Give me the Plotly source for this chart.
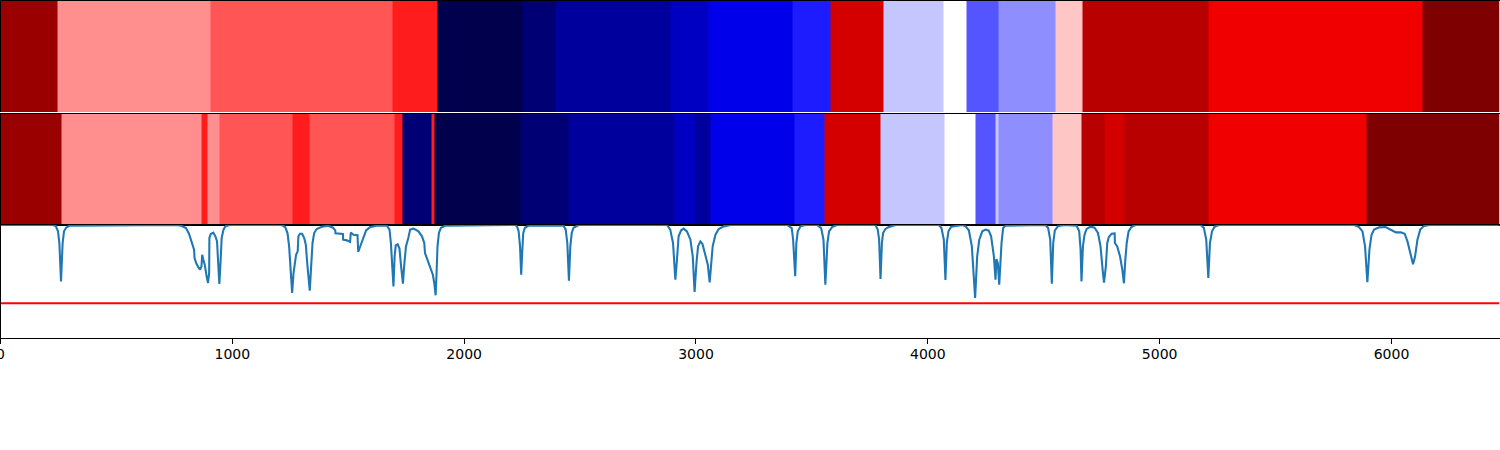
import plotly.graph_objects as go

X_MAX = 6466
THRESHOLD = 0.307

row1_edges = [0, 248, 904, 1689, 1883, 2250, 2392, 2888, 3056, 3418, 3582, 3807, 4066, 4169, 4303, 4549, 4669, 5209, 6132, 6466]
row1_rank = [17, 11, 12, 13, 0, 1, 2, 3, 4, 5, 15, 8, 9, 6, 7, 10, 16, 14, 18]

row2_edges = [0, 261, 869, 895, 943, 1258, 1335, 1698, 1736, 1861, 1874, 2245, 2452, 2909, 2996, 3061, 3427, 3556, 3794, 4074, 4204, 4294, 4307, 4536, 4661, 4761, 4847, 5209, 5894, 6466]
row2_rank = [17, 11, 13, 11, 12, 13, 12, 13, 1, 13, 0, 1, 2, 3, 2, 4, 5, 15, 8, 9, 6, 8, 7, 10, 16, 15, 16, 14, 18]

spectrum_x = [
    0, 228, 239, 248, 254, 258, 261, 265, 268, 274, 283, 297, 760, 782, 800, 813, 825, 835, 837, 844, 854, 861,
    867, 870, 875, 881, 888, 895, 900, 901, 907, 918, 927, 934, 939, 944, 949, 954, 962, 970, 990, 1213, 1228,
    1238, 1245, 1251, 1258, 1264, 1270, 1275, 1282, 1285, 1292, 1301, 1310, 1317, 1323, 1328, 1334, 1340, 1346,
    1353, 1364, 1386, 1415, 1434, 1444, 1445, 1465, 1477, 1478, 1494, 1508, 1511, 1523, 1540, 1543, 1552, 1566,
    1577, 1595, 1623, 1667, 1678, 1684, 1690, 1695, 1700, 1705, 1713, 1721, 1728, 1736, 1741, 1749, 1759, 1767,
    1782, 1803, 1818, 1828, 1831, 1842, 1854, 1865, 1871, 1877, 1881, 1885, 1891, 1900, 1918,
    2220, 2228, 2235, 2241, 2246, 2251, 2255, 2262, 2278, 2429, 2438, 2445, 2452, 2458, 2464, 2472, 2494,
    2875, 2889, 2901, 2911, 2918, 2925, 2936, 2947, 2961, 2976, 2986, 2994, 3002, 3009, 3019, 3028, 3040, 3051,
    3059, 3065, 3072, 3084, 3098, 3120, 3148, 3393, 3413, 3419, 3428, 3433, 3439, 3451, 3472, 3522, 3540, 3550,
    3558, 3567, 3574, 3587, 3609, 3774, 3784, 3790, 3796, 3802, 3807, 3817, 3832, 3861, 4048, 4059, 4069, 4076,
    4082, 4089, 4101, 4148, 4163, 4177, 4190, 4204, 4213, 4222, 4235, 4249, 4263, 4273, 4285, 4292, 4296, 4302,
    4308, 4318, 4325, 4335, 4508, 4519, 4528, 4535, 4541, 4548, 4561, 4587, 4642, 4653, 4659, 4663, 4669, 4676,
    4685, 4702, 4719, 4734, 4745, 4754, 4760, 4768, 4774, 4781, 4793, 4806, 4807, 4817, 4829, 4839, 4846, 4852,
    4858, 4866, 4878, 4896, 5177, 5191, 5201, 5210, 5217, 5226, 5237, 5256, 5839, 5860, 5875, 5886, 5896, 5905,
    5914, 5925, 5947, 5975, 5997, 6019, 6040, 6057, 6069, 6080, 6093, 6102, 6112, 6124, 6138, 6162, 6466,
]
spectrum_y = [
    1.0, 1.0, .988, .944, .841, .664, .501, .693, .841, .944, .976, .993, 1.0, .991, .973, .923, .855, .782, .708, .664, .625, .605,
    .634, .737, .693, .649, .560, .487, .575, .885, .920, .932, .900, .855, .664, .478, .664, .885, .959, .988, 1.0, 1.0, .982,
    .929, .811, .605, .398, .575, .693, .737, .767, .900, .923, .923, .885, .826, .664, .516, .419, .634, .841,
    .929, .965, .985, .993, .976, .953, .926, .920, .920, .870, .864, .850, .932, .914, .909, .761, .811, .900,
    .953, .982, .993, .993, .959, .841, .605, .457, .723, .820, .829, .791, .634, .481, .634, .811, .885, .959,
    .968, .944, .900, .841, .752, .693, .619, .560, .487, .378, .575, .811, .929, .976, .993,
    1.0, .988, .944, .811, .560, .782, .929, .976, .993, .993, .959, .841, .507, .811, .929, .976, 1.0,
    1.0, .959, .841, .516, .693, .900, .953, .968, .944, .870, .723, .407, .664, .811, .855, .832, .737, .649,
    .493, .634, .811, .914, .965, .988, 1.0, 1.0, .973, .870, .546, .841, .944, .988, 1.0, 1.0, .973, .870,
    .472, .841, .944, .982, 1.0, 1.0, .959, .870, .522, .841, .929, .965, .982, 1.0, 1.0, .973, .870, .513,
    .841, .944, .985, 1.0, .988, .953, .811, .354, .723, .870, .944, .959, .950, .900, .723, .516, .699, .664,
    .472, .841, .973, .993, 1.0, .973, .870, .481, .841, .953, .988, 1.0, .993, .944, .782, .501, .811, .914,
    .965, .985, .976, .929, .811, .605, .490, .634, .841, .894, .923, .926, .841, .811, .723, .605, .484, .693,
    .841, .944, .982, 1.0, 1.0, .973, .870, .531, .841, .944, .985, 1.0, 1.0, .982, .944, .811, .493, .782,
    .914, .959, .979, .982, .959, .935, .935, .923, .855, .752, .652, .723, .870, .959, .988, 1.0, 1.0,
]
tick_values = [0, 1000, 2000, 3000, 4000, 5000, 6000]
tick_labels = ["0", "1000", "2000", "3000", "4000", "5000", "6000"]

SEISMIC = [
    [0.0, "rgb(0,0,76)"],
    [0.25, "rgb(0,0,255)"],
    [0.5, "rgb(255,255,255)"],
    [0.75, "rgb(255,0,0)"],
    [1.0, "rgb(127,0,0)"],
]

W, H = 1500, 450


def ydom(top, bottom):
    return [1 - bottom / H, 1 - top / H]


fig = go.Figure()
fig.add_trace(go.Heatmap(x=row1_edges, y=[0, 1], z=[row1_rank], zmin=0, zmax=18, colorscale=SEISMIC,
                         showscale=False, xaxis="x", yaxis="y", hoverinfo="skip"))
fig.add_trace(go.Heatmap(x=row2_edges, y=[0, 1], z=[row2_rank], zmin=0, zmax=18, colorscale=SEISMIC,
                         showscale=False, xaxis="x2", yaxis="y2", hoverinfo="skip"))
fig.add_trace(go.Scatter(x=spectrum_x, y=spectrum_y, mode="lines", line=dict(color="#1f77b4", width=2.08),
                         xaxis="x3", yaxis="y3", hoverinfo="skip"))
fig.add_trace(go.Scatter(x=[0, X_MAX], y=[THRESHOLD, THRESHOLD], mode="lines", line=dict(color="#ff0000", width=2.08),
                         xaxis="x3", yaxis="y3", hoverinfo="skip"))

x_dom = [0.5 / W, 1499.5 / W]
frame = dict(showline=True, mirror=True, linecolor="black", linewidth=1, showgrid=False, zeroline=False)
common_y = dict(range=[0, 1], showticklabels=False, ticks="", **frame)

fig.update_layout(
    width=W, height=H, margin=dict(l=0, r=0, t=0, b=0, pad=0, autoexpand=False),
    paper_bgcolor="white", plot_bgcolor="white", showlegend=False,
    font=dict(family="DejaVu Sans", size=14, color="black"),
    xaxis=dict(domain=x_dom, range=[0, X_MAX], anchor="y", side="top", showline=True, mirror=False,
               linecolor="black", linewidth=1, showgrid=False, zeroline=False, showticklabels=False, ticks=""),
    yaxis=dict(domain=ydom(0.5, 112), anchor="x", **common_y),
    xaxis2=dict(domain=x_dom, range=[0, X_MAX], anchor="y2", showticklabels=False, ticks="", **frame),
    yaxis2=dict(domain=ydom(113.5, 225), anchor="x2", **common_y),
    xaxis3=dict(domain=x_dom, range=[0, X_MAX], anchor="y3", tickmode="array", tickvals=tick_values,
                ticktext=tick_labels, ticks="outside", ticklen=5, tickwidth=1, tickcolor="black",
                ticklabeloverflow="allow", ticklabelstandoff=-2, **frame),
    yaxis3=dict(domain=ydom(225, 338), anchor="x3", **common_y),
)

fig.write_html("out.html", post_script="document.body.style.margin='0';", config={"displayModeBar": False})
